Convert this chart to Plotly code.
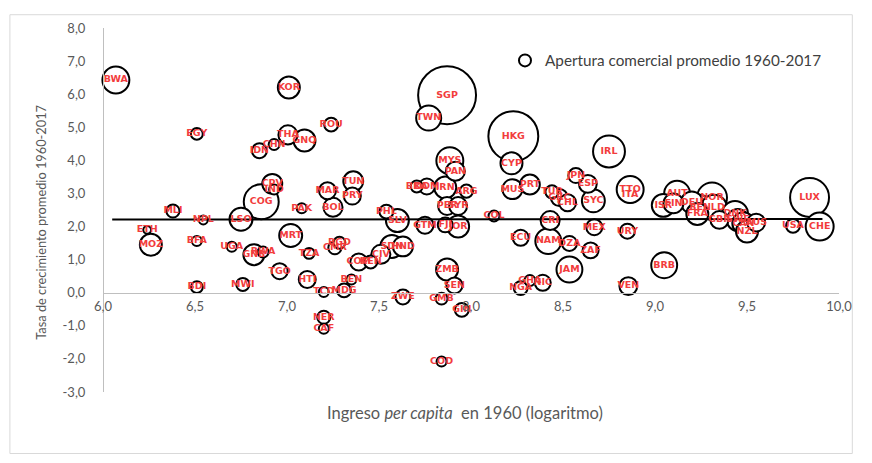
import numpy as np
import plotly.graph_objects as go

paises = ["BWA","KOR","EGY","ROU","THA","GNQ","CHN","IDN","CPV","IND","COG","MAR","PAK","MLI","BOL",
          "NPL","LSO","ETH","MOZ","BFA","UGA","GNB","RWA","MRT","TZA","BGD","CMR","TGO","BDI","MWI",
          "HTI","TCD","NER","CAF","COM","KEN","CIV","SDN","HND","BEN","MDG","PHL","SLV","GTM","FJI",
          "JOR","PER","SYR","COL","CRI","ECU","NAM","ZMB","SEN","GHA","NIC","NGA","ZWE","GMB","GIN",
          "COD","SGP","TWN","HKG","CYP","MYS","PAN","IRN","BRA","DOM","ARG","MUS","PRT","TUN","PRY",
          "IRL","JPN","ESP","TUR","GRC","CHL","SYC","TTO","ITA","ISR","AUT","FIN","DEU","BEL","NOR",
          "NLD","FRA","DNK","GBR","SWE","CAN","AUS","NZL","MEX","URY","LUX","USA","CHE","DZA","ZAF",
          "JAM","BRB","VEN"]

ingreso_1960 = [6.07,7.01,6.51,7.24,7.005,7.095,6.93,6.85,6.92,6.93,6.86,7.22,7.08,6.38,7.25,
                6.545,6.75,6.24,6.26,6.51,6.70,6.82,6.87,7.02,7.12,7.285,7.26,6.96,6.51,6.76,
                7.11,7.20,7.20,7.20,7.39,7.455,7.51,7.57,7.63,7.35,7.31,7.54,7.60,7.75,7.86,
                7.93,7.87,7.93,8.125,8.43,8.27,8.42,7.87,7.91,8.32,8.39,8.27,7.63,7.84,7.95,
                7.84,7.87,7.77,8.23,8.22,7.885,7.915,7.86,7.705,7.76,7.975,8.225,8.32,7.36,7.355,
                8.75,8.57,8.635,8.44,8.48,8.525,8.665,8.865,8.865,9.045,9.12,9.10,9.20,9.24,9.31,
                9.32,9.23,9.435,9.35,9.45,9.48,9.55,9.50,8.67,8.85,9.84,9.75,9.895,8.535,8.65,
                8.535,9.05,8.855]

crecimiento = [6.43,6.20,4.80,5.08,4.77,4.60,4.48,4.29,3.29,3.12,2.75,3.08,2.55,2.47,2.58,
               2.20,2.22,1.90,1.45,1.56,1.39,1.15,1.23,1.73,1.19,1.51,1.36,0.65,0.17,0.25,
               0.40,0.02,-0.74,-1.09,0.93,0.93,1.16,1.40,1.40,0.40,0.07,2.45,2.18,2.04,2.05,
               2.00,2.62,2.62,2.32,2.18,1.66,1.56,0.70,0.22,0.37,0.30,0.14,-0.13,-0.18,-0.52,
               -2.08,5.97,5.28,4.73,3.91,3.99,3.67,3.18,3.21,3.21,3.07,3.13,3.27,3.37,2.92,
               4.27,3.54,3.29,3.05,2.88,2.72,2.78,3.12,2.97,2.64,2.99,2.70,2.73,2.57,2.88,
               2.57,2.38,2.38,2.20,2.20,2.10,2.12,1.85,1.98,1.86,2.88,2.02,2.00,1.49,1.28,
               0.70,0.83,0.20]

apertura = [70,48,16,21,37,48,14,24,40,12,114,30,12,19,37,
            10,52,8,48,12,12,44,14,52,14,16,19,27,16,19,
            30,12,19,12,30,19,37,52,40,12,21,21,52,30,24,
            48,33,33,14,37,27,65,48,27,14,27,21,24,16,21,
            12,300,61,225,48,70,37,48,16,27,19,40,40,40,30,
            96,24,33,19,30,30,52,70,30,52,65,40,48,65,85,
            65,48,65,33,48,48,33,48,27,24,140,21,75,24,27,
            65,65,33]

tendencia_x = [6.05, 9.91]
tendencia_y = [2.21, 2.23]

x_ticks = [6.0, 6.5, 7.0, 7.5, 8.0, 8.5, 9.0, 9.5, 10.0]
x_ticktext = ["6,0", "6,5", "7,0", "7,5", "8,0", "8,5", "9,0", "9,5", "10,0"]
y_ticks = [-3, -2, -1, 0, 1, 2, 3, 4, 5, 6, 7, 8]
y_ticktext = ["-3,0", "-2,0", "-1,0", "0,0", "1,0", "2,0", "3,0", "4,0", "5,0", "6,0", "7,0", "8,0"]

# ---- drawing ----
ap = np.array(apertura, dtype=float)
order = list(np.argsort(-ap, kind="stable"))
# ITA's bubble sits behind TTO's in the reference
i_ita, i_tto = paises.index("ITA"), paises.index("TTO")
order.remove(i_ita)
order.insert(order.index(i_tto), i_ita)
order = np.array(order)
xs = np.array(ingreso_1960)[order]
ys = np.array(crecimiento)[order]
diam = 3.46 * np.sqrt(ap[order]) - 2

GRAY = "#595959"
FONT = "Lato"

fig = go.Figure()
fig.add_trace(go.Scatter(
    x=xs, y=ys, mode="markers", name="Apertura comercial promedio 1960-2017",
    marker=dict(size=diam, sizemode="diameter", color="white",
                line=dict(color="black", width=2), opacity=1),
    cliponaxis=False, hoverinfo="skip", showlegend=True))
fig.add_trace(go.Scatter(
    x=tendencia_x, y=tendencia_y, mode="lines", line=dict(color="black", width=2),
    showlegend=False, hoverinfo="skip"))
fig.add_trace(go.Scatter(
    x=ingreso_1960, y=crecimiento, mode="text", text=paises,
    textfont=dict(family="DejaVu Sans", size=9.5, color="#f23c3c", weight="bold"),
    textposition="middle center", cliponaxis=False, showlegend=False, hoverinfo="skip"))

# page has an 8px body margin; figure sized to fit the 872x463 window exactly
OFF = 8
W, H = 872 - 2 * OFF, 463 - 2 * OFF
L, T = 95, 14
pw, ph = 747, 370
R, B = W - L - pw, H - T - ph

def px2paper_x(page_px):
    return (page_px - OFF - L) / pw

def px2paper_y(page_py):
    return (H - B - (page_py - OFF)) / ph

fig.update_layout(
    width=W, height=H, margin=dict(l=L, r=R, t=T, b=B),
    plot_bgcolor="white", paper_bgcolor="white",
    font=dict(family=FONT, color=GRAY, size=13),
    xaxis=dict(range=[6, 10], tickvals=x_ticks, ticktext=x_ticktext, showgrid=False,
               zeroline=False, showline=True, linecolor="#bfbfbf", linewidth=1,
               anchor="free", position=3 / 11, ticks="", ticklabelstandoff=2,
               tickfont=dict(size=13, color=GRAY, family=FONT)),
    yaxis=dict(range=[-3, 8], tickvals=y_ticks, ticktext=y_ticktext, showgrid=False,
               zeroline=False, showline=True, linecolor="#bfbfbf", linewidth=1,
               ticks="", ticklabelstandoff=15, anchor="free", position=0,
               tickfont=dict(size=13, color=GRAY, family=FONT)),
    legend=dict(x=px2paper_x(511), y=px2paper_y(55), xanchor="left", yanchor="middle",
                bgcolor="rgba(0,0,0,0)", itemsizing="constant",
                font=dict(size=15.3, color="#404040", family=FONT)),
    annotations=[
        dict(text="Tasa de crecimiento promedio 1960-2017", textangle=-90,
             x=px2paper_x(40), y=px2paper_y(219), xref="paper", yref="paper",
             xanchor="center", yanchor="middle",
             showarrow=False, font=dict(size=12.8, color=GRAY, family=FONT)),
        dict(text="Ingreso <i>per capita</i>  en 1960 (logaritmo)",
             x=px2paper_x(470), y=px2paper_y(413), xref="paper", yref="paper",
             xanchor="center", yanchor="middle",
             showarrow=False, font=dict(size=16.5, color=GRAY, family=FONT)),
    ],
    shapes=[dict(type="rect", xref="paper", yref="paper",
                 x0=(0.5 - L) / pw, x1=(W - 0.5 - L) / pw,
                 y0=(B - 0.5) / ph * -1, y1=(H - B - 0.5) / ph,
                 line=dict(color="#d9d9d9", width=1), fillcolor="rgba(0,0,0,0)", layer="below")],
)

fig.write_html("out.html")
